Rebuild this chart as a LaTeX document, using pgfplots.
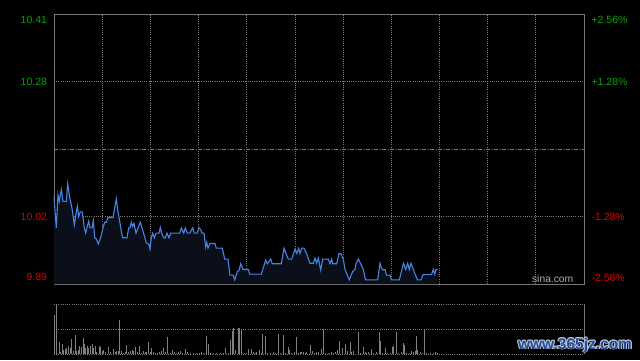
\documentclass[border=0pt]{standalone}
\usepackage{fontspec}
\setmainfont{Liberation Sans}
\usepackage{pgfplots}
\usepackage{pgfplotstable}
\pgfplotsset{compat=1.18}
\definecolor{upg}{RGB}{0,165,0}
\definecolor{dnr}{RGB}{215,0,0}
\definecolor{framec}{RGB}{120,120,120}
\definecolor{gridc}{RGB}{125,125,125}
\definecolor{linec}{RGB}{72,132,228}
\definecolor{fillc}{RGB}{10,15,26}
\definecolor{volc}{RGB}{128,128,128}
\definecolor{wmblue}{RGB}{35,75,150}
\definecolor{wmhalo}{RGB}{190,200,220}

\pgfplotstableread{
m p
0 10.057
1.43 9.998
2.49 10.062
3.30 10.049
4.55 10.072
5.60 10.049
7.66 10.049
8.53 10.083
9.78 10.056
11.21 10.036
12.64 10.004
14.51 10.040
15.38 10.020
16.38 10.029
17.62 10.029
18.87 9.998
19.74 9.988
21.61 10.011
22.42 9.998
23.66 9.998
24.47 10.012
25.34 9.979
26.34 9.977
27.58 9.967
29.26 9.982
30.51 9.998
31.57 10.009
32.56 10.009
33.62 10.018
36.74 10.018
37.98 10.040
38.79 10.054
39.66 10.033
40.91 10.011
41.90 9.992
42.77 9.979
45.45 9.979
46.51 9.998
47.32 9.998
48.13 10.009
49.00 10.001
49.81 10.007
51.06 9.988
53.73 10.009
55.41 9.992
57.47 9.969
58.96 9.967
59.77 9.957
60.58 9.979
61.45 9.988
62.45 9.979
63.51 9.988
65.38 9.988
66.19 9.999
67.06 9.988
68.30 9.979
69.30 9.979
70.36 9.988
71.60 9.979
72.66 9.988
78.26 9.988
79.26 9.998
80.76 9.988
81.75 9.998
83.00 9.988
84.49 9.988
86.36 9.998
87.36 9.988
89.04 9.988
90.28 9.998
91.34 9.995
92.15 9.988
93.40 9.988
94.45 9.961
95.08 9.970
95.89 9.959
97.13 9.968
100.24 9.968
101.05 9.959
104.79 9.959
106.28 9.938
108.34 9.938
109.58 9.907
111.64 9.907
112.51 9.898
114.13 9.914
115.19 9.916
116.25 9.929
117.68 9.918
120.98 9.918
121.85 9.909
129.07 9.909
131.81 9.936
132.81 9.929
134.93 9.938
135.92 9.929
141.53 9.929
143.21 9.959
144.45 9.949
145.88 9.938
148.00 9.938
150.06 9.957
151.11 9.949
152.36 9.959
153.17 9.949
154.23 9.959
155.66 9.959
157.34 9.948
159.40 9.930
161.45 9.930
162.51 9.940
163.57 9.930
164.56 9.940
166.06 9.917
167.30 9.938
170.79 9.938
171.85 9.929
172.91 9.938
173.53 9.929
176.02 9.929
177.45 9.949
178.70 9.948
180.13 9.938
181.19 9.918
183.87 9.898
185.98 9.914
187.41 9.918
188.04 9.929
189.47 9.938
190.96 9.929
192.58 9.918
193.95 9.898
201.55 9.898
202.98 9.930
204.04 9.920
204.85 9.917
206.09 9.918
207.03 9.907
209.21 9.907
210.14 9.898
215.00 9.898
217.61 9.930
218.98 9.918
220.23 9.930
221.22 9.918
222.28 9.930
223.71 9.918
224.90 9.908
226.33 9.898
228.51 9.898
229.75 9.908
235.05 9.908
236.17 9.918
237.04 9.909
237.85 9.918
238.90 9.918
}\price

\pgfplotstableread{
m p
238.90 9.89
0 9.89
}\closing
\pgfplotstablevertcat{\pricefill}{\price}
\pgfplotstablevertcat{\pricefill}{\closing}

\pgfplotstableread{
m v
0.41 39.3
1.66 49.7
3.11 11.7
4.15 1.7
5.19 10.3
6.02 4.3
6.85 5.3
7.89 6
8.92 8.3
9.96 5.7
10.79 15.3
12.04 3.3
13.28 19.3
14.11 2.7
15.15 3.7
15.98 7.7
17.02 6.7
18.06 16
18.68 10.3
19.72 6
20.55 8.3
21.59 6
22.42 7.7
23.66 10.3
24.49 5.7
25.53 7.7
26.57 1.7
28.22 8.3
29.06 7
29.89 2.7
30.71 4.3
31.96 1.7
33.83 7
34.87 1.7
36.94 5
37.98 1.7
39.02 3.3
39.85 3.3
40.68 34.3
41.72 3.3
43.17 1
44.21 1.7
45.04 9.3
46.28 1.7
47.32 2.7
48.56 4.3
49.60 3.3
50.64 7
51.88 1.7
52.92 8.3
54.58 1
55.62 2.7
56.86 1.7
57.70 2.3
58.73 11.7
59.77 1.7
60.81 6
61.85 2.3
63.09 1
64.34 1
65.58 1.7
66.62 2.7
68.07 6
69.32 1.7
70.56 17.3
72.22 1
73.68 4.3
74.71 2.3
75.96 1
77.41 1.7
78.45 3.3
79.90 1
81.77 5.3
83.01 2.3
84.68 1
86.75 1
88.83 1
90.49 1
91.73 2.3
92.98 1
94.85 18.3
96.09 10.3
97.54 1
99.20 1
101.28 1
103.35 1
105.43 1
106.88 6.3
108.54 1
109.79 14.3
111.03 22.7
111.66 26
112.90 4.3
114.56 26
115.19 26
116.64 24.3
118.30 1
119.54 1
121.00 5.3
122.66 5.3
124.11 1.7
125.15 1
126.19 1.7
127.64 4.3
128.88 1
129.71 20.3
131.58 18.3
133.04 1
134.49 1
136.56 2.3
137.81 1
139.47 20.3
140.71 1
142.79 19.3
144.24 1
145.90 7.3
146.52 4.3
147.98 1
149.43 1.7
150.88 17.3
152.13 1
153.17 2.3
154.20 1.7
155.24 1.7
156.28 1
157.32 1.7
159.40 9.3
160.85 3.3
162.30 1
163.54 1.7
164.79 1.7
166.45 5.3
167.69 24.7
169.15 1
171.01 1
172.47 1.7
173.92 1
175.16 1.7
176.41 4.3
177.65 13.3
179.52 6
181.18 10.3
182.84 2.7
184.50 12
185.33 1.7
186.37 3.3
189.48 22
190.94 1
192.59 7
193.63 2.3
194.67 1
195.71 1.7
197.37 5
198.82 1
200.90 1.7
202.56 22
202.98 13.3
204.64 1
206.09 6
207.54 1
209.20 1
210.65 7
211.28 8.3
213.35 22
214.39 1
216.05 1.7
217.50 11
218.12 9.3
219.58 1
221.24 1
222.28 2.7
223.73 1.7
224.77 3.3
225.81 18.3
226.43 3.7
227.88 1.7
229.33 1
230.79 23.7
232.03 1
234.10 1
236.18 1
237.63 1.7
238.67 1
}\vol

\begin{document}
\begin{tikzpicture}[x=1pt,y=1pt]
\fill[black] (0,0) rectangle (640,360);
% price panel
\begin{axis}[
  at={(54pt,76pt)}, anchor=south west,
  width=530pt, height=270pt, scale only axis,
  xmin=0, xmax=330, ymin=9.89, ymax=10.41,
  axis line style={framec, line width=0.8pt},
  xtick={30,60,...,300}, ytick={10.02,10.28},
  xticklabels={}, yticklabels={},
  major tick length=0pt,
  grid=major,
  major grid style={gridc, line width=0.7pt, dash pattern=on 1pt off 1.2pt},
  clip=false,
  font=\fontsize{10.5}{12}\selectfont,
]
\addplot[fill=fillc, draw=none, forget plot] table[x=m,y=p] {\pricefill};
\addplot[linec, line width=1.1pt] table[x=m,y=p] {\price};
\addplot[gridc, line width=0.7pt, dash pattern=on 4pt off 1.5pt on 1pt off 1.5pt] coordinates {(0,10.15) (330,10.15)};
% left labels
\node[anchor=east, text=upg] at (axis cs:0,10.41) [xshift=-3.5pt, yshift=-6pt] {10.41};
\node[anchor=east, text=upg] at (axis cs:0,10.28) [xshift=-3.5pt] {10.28};
\node[anchor=east, text=dnr] at (axis cs:0,10.02) [xshift=-3.5pt] {10.02};
\node[anchor=east, text=dnr] at (axis cs:0,9.89) [xshift=-3.5pt, yshift=7pt] {9.89};
% right labels
\node[anchor=west, text=upg] at (axis cs:330,10.41) [xshift=4pt, yshift=-6pt] {+2.56\%};
\node[anchor=west, text=upg] at (axis cs:330,10.28) [xshift=4pt] {+1.28\%};
\node[anchor=west, text=dnr] at (axis cs:330,10.02) [xshift=4pt] {-1.28\%};
\node[anchor=west, text=dnr] at (axis cs:330,9.89) [xshift=4pt, yshift=6pt] {-2.56\%};
\node[anchor=base east, text={rgb,255:red,175;green,175;blue,175}, inner sep=0pt, font=\fontsize{10.3}{12}\selectfont] at (axis cs:330,9.89) [xshift=-10.5pt, yshift=1.5pt] {sina.com};
\end{axis}
% volume panel
\begin{axis}[
  at={(54pt,6pt)}, anchor=south west,
  width=530pt, height=50pt, scale only axis,
  xmin=0, xmax=330, ymin=0, ymax=50,
  axis lines=none, clip=false,
]
\addplot[gridc, line width=0.7pt, dash pattern=on 1pt off 1.2pt] coordinates {(0,50) (330,50)};
\addplot[gridc, line width=0.7pt, dash pattern=on 1pt off 1.2pt] coordinates {(0,25) (330,25)};
\addplot[gridc, line width=0.7pt, dash pattern=on 1pt off 1.2pt] coordinates {(0,0) (330,0)};
\addplot[framec, line width=0.8pt] coordinates {(330,0) (330,50)};
\addplot[ycomb, volc, line width=0.9pt] table[x=m,y=v] {\vol};
\end{axis}
% watermark
\begin{scope}[font=\fontsize{15.5}{17}\selectfont\bfseries]
\foreach \dx/\dy in {-0.9/0,0.9/0,0/-0.9,0/0.9,-0.7/-0.7,0.7/0.7,-0.7/0.7,0.7/-0.7}{
  \node[text=wmhalo, anchor=center] at (575+\dx,15+\dy) {www.365jz.com};
}
\node[text=wmblue, anchor=center] at (575,15) {www.365jz.com};
\end{scope}
\end{tikzpicture}
\end{document}
